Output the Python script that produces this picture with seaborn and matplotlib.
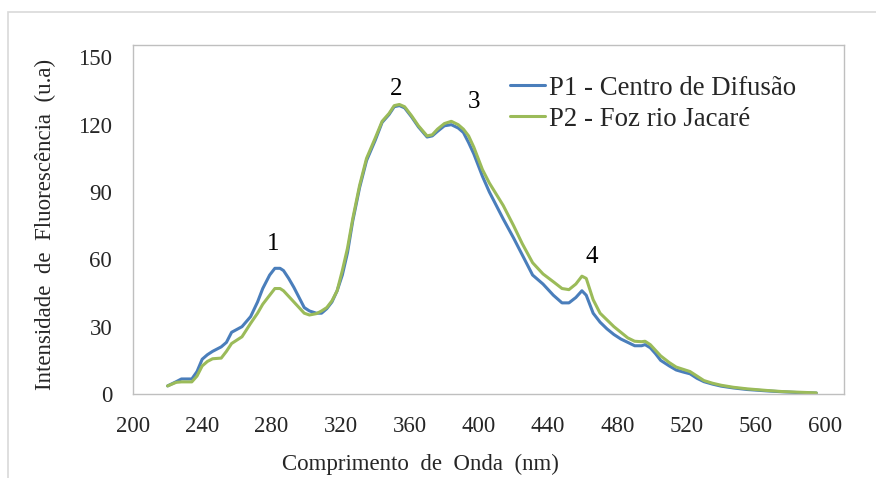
import numpy as np
import pandas as pd
import seaborn as sns
import matplotlib
matplotlib.use("Agg")
import matplotlib.pyplot as plt
from matplotlib.patches import Rectangle

wavelength = [220, 225, 228, 234, 237, 240, 243, 246, 251, 254, 257, 263, 268, 272, 275, 279,
              282, 285, 287, 290, 293, 296, 299, 302, 306, 309, 312, 315, 318, 321, 324, 327,
              331, 335, 340, 344, 348, 351, 354, 357, 361, 365, 370, 373, 376, 380, 384, 388,
              391, 394, 397, 402, 406, 410, 414, 420, 425, 431, 437, 443, 448, 452, 456, 459.5,
              462, 466, 470, 474, 478, 482, 486, 490, 494, 496, 499, 502, 505, 510, 514, 518,
              522, 526, 530, 535, 540, 547, 555, 566, 575, 585, 595]

p1 = [3.6, 5.5, 6.7, 6.7, 10, 15.5, 17.5, 19, 21, 23, 27.5, 30, 34.5, 41, 47, 53,
      56, 56, 55, 51.5, 47.5, 43, 38.5, 37, 36, 36, 38, 41, 46, 53, 63, 77,
      92, 104, 113, 121, 124.5, 128, 128.5, 127.5, 123.5, 119, 114.5, 115, 117, 119.5, 120, 118.5,
      116.5, 112, 107, 97, 90, 84, 78, 69.5, 62, 53, 49, 44, 40.6, 40.6, 43, 46,
      44, 36, 32, 29, 26.5, 24.5, 23, 21.5, 21.5, 22, 20.6, 18, 15, 12.5, 10.7, 9.8,
      9, 7, 5.5, 4.4, 3.5, 2.7, 2, 1.4, 1, 0.6, 0.4]

p2 = [3.6, 5.2, 5.4, 5.4, 8, 12.5, 14.5, 15.7, 16, 19, 22.5, 25.5, 31.5, 36, 40, 44,
      47, 47, 46, 43.5, 41, 38.5, 36, 35.2, 35.8, 37, 38.5, 41.5, 46, 55, 65, 78,
      93, 105, 114, 121.5, 125, 128.5, 129, 128, 124, 119.5, 115, 115.5, 118, 120.5, 121.5, 120,
      118, 115, 110, 100, 94, 89, 84, 75, 67, 58.5, 53.5, 50, 47, 46.5, 49, 52.5,
      51.5, 42, 36, 33, 30, 27.5, 25, 23.5, 23.3, 23.5, 22, 19.5, 17, 14, 12, 11,
      10, 8, 6, 4.8, 3.9, 3, 2.3, 1.6, 1.1, 0.8, 0.5]

series_names = ["P1 - Centro de Difusão", "P2 - Foz rio Jacaré"]
peak_labels = ["1", "2", "3", "4"]
peak_x = [281, 352, 397, 465]
peak_y = [67, 136, 130, 61]
x_ticks = [200, 240, 280, 320, 360, 400, 440, 480, 520, 560, 600]
y_ticks = [0, 30, 60, 90, 120, 150]

sns.set_theme(style="white")
plt.rcParams['font.family'] = ['Liberation Serif', 'DejaVu Serif']

df = pd.DataFrame({
    "wl": wavelength * 2,
    "val": p1 + p2,
    "serie": [series_names[0]] * len(p1) + [series_names[1]] * len(p2),
})

fig = plt.figure(figsize=(8.76, 4.78), dpi=100)
fig.patches.append(Rectangle((8 / 876, -0.1), 1.2, 1.1 - 12 / 478, transform=fig.transFigure,
                             fill=False, edgecolor="#D9D9D9", linewidth=1.2, zorder=0))
ax = fig.add_axes([133 / 876, 1 - 394 / 478, (844 - 133) / 876, (394 - 45) / 478])

sns.lineplot(data=df, x="wl", y="val", hue="serie", palette=["#4A7EBB", "#9BBB59"],
             linewidth=2.2, ax=ax, sort=False, estimator=None)

ax.set_xlim(200, 611)
ax.set_ylim(0, 155.5)
ax.set_xticks(x_ticks)
ax.set_yticks(y_ticks)
ax.tick_params(axis="y", labelsize=16.5, length=0, pad=15)
ax.tick_params(axis="x", labelsize=16.5, length=0, pad=16)
for s in ax.spines.values():
    s.set_color("#BFBFBF")
    s.set_linewidth(1.0)

ax.set_xlabel("Comprimento  de  Onda  (nm)", fontsize=16.5)
ax.set_ylabel("Intensidade  de  Fluorescência  (u.a)", fontsize=16.5)
ax.xaxis.set_label_coords((420 - 133) / 711, (394 - 464) / 349)
ax.yaxis.set_label_coords((45 - 133) / 711, (394 - 224) / 349)
ax.xaxis.label.set_va("center")
ax.yaxis.label.set_va("center")

for lab, px, py in zip(peak_labels, peak_x, peak_y):
    ax.text(px, py, lab, fontsize=18, ha="center", va="center", color="black")

leg = ax.legend(loc="upper left", bbox_to_anchor=(0.512, 0.95), frameon=False, fontsize=19.3,
                handlelength=1.3, handletextpad=0.15, labelspacing=0.22, borderpad=0)
for line in leg.get_lines():
    line.set_linewidth(2.2)

fig.savefig("out.png", dpi=100)
